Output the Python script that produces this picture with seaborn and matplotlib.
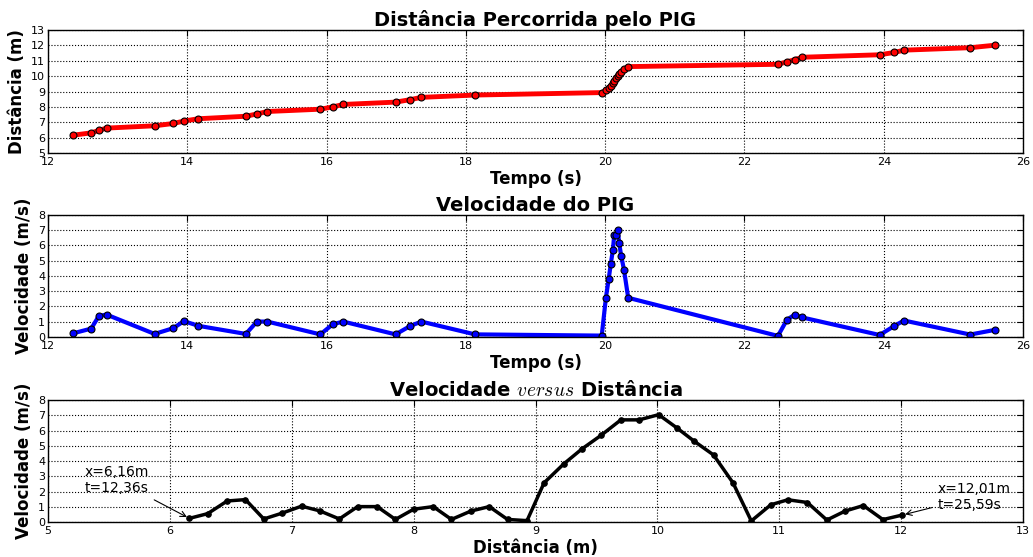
import matplotlib
matplotlib.use("Agg")
import matplotlib.pyplot as plt
import seaborn as sns

# tempo (s), distancia (m) e velocidade (m/s) de cada leitura
tempo = [12.36, 12.62, 12.73, 12.84, 13.53, 13.80, 13.95, 14.16, 14.84, 15.00,
         15.15, 15.91, 16.09, 16.24, 16.99, 17.20, 17.36, 18.13, 19.95, 20.01,
         20.05, 20.08, 20.11, 20.13, 20.16, 20.18, 20.20, 20.23, 20.27, 20.33,
         22.48, 22.61, 22.72, 22.83, 23.94, 24.15, 24.29, 25.24, 25.59]
distancia = [6.16, 6.31, 6.47, 6.62, 6.77, 6.92, 7.08, 7.23, 7.39, 7.54,
             7.70, 7.85, 8.00, 8.16, 8.31, 8.47, 8.62, 8.77, 8.93, 9.07,
             9.23, 9.38, 9.54, 9.70, 9.85, 10.01, 10.16, 10.30, 10.46, 10.62,
             10.77, 10.93, 11.07, 11.23, 11.39, 11.54, 11.69, 11.85, 12.01]
velocidade = [0.24, 0.55, 1.38, 1.47, 0.20, 0.58, 1.04, 0.73, 0.20, 1.01,
              1.01, 0.17, 0.84, 1.01, 0.17, 0.72, 1.01, 0.17, 0.09, 2.57,
              3.80, 4.79, 5.70, 6.70, 6.70, 7.04, 6.17, 5.31, 4.40, 2.57,
              0.07, 1.13, 1.46, 1.28, 0.13, 0.72, 1.08, 0.16, 0.46]

sns.set_style("white")
plt.rcParams.update({
    "font.family": ["DejaVu Sans"],
    "mathtext.fontset": "cm",
    "text.color": "black",
    "axes.labelcolor": "black",
    "xtick.color": "black",
    "ytick.color": "black",
    "xtick.direction": "in",
    "ytick.direction": "in",
    "xtick.top": True,
    "ytick.right": True,
    "xtick.labelsize": 8,
    "ytick.labelsize": 8,
    "xtick.major.size": 4,
    "ytick.major.size": 4,
    "xtick.major.pad": 3,
    "ytick.major.pad": 2,
    "axes.edgecolor": "black",
    "axes.linewidth": 1.0,
})

fig = plt.figure(figsize=(10.33, 5.57), dpi=100, facecolor="white")
ax1 = fig.add_axes([0.0465, 0.7253, 0.9439, 0.2208])
ax2 = fig.add_axes([0.0465, 0.3950, 0.9439, 0.2190])
ax3 = fig.add_axes([0.0465, 0.0628, 0.9439, 0.2190])

# Distancia x tempo
sns.lineplot(x=tempo, y=distancia, ax=ax1, color="red", lw=3.5, marker="o",
             markersize=5, markerfacecolor="red", markeredgecolor="black",
             markeredgewidth=0.8, sort=False, estimator=None)
ax1.set_xlim(12, 26)
ax1.set_ylim(5, 13)
ax1.set_xticks(range(12, 27, 2))
ax1.set_yticks(range(5, 14))
ax1.set_title("Distância Percorrida pelo PIG", fontsize=14, fontweight="bold", pad=3)
ax1.set_xlabel("Tempo (s)", fontsize=12, fontweight="bold", labelpad=2)
ax1.set_ylabel("Distância (m)", fontsize=12, fontweight="bold", labelpad=4)

# Velocidade x tempo
sns.lineplot(x=tempo, y=velocidade, ax=ax2, color="blue", lw=3, marker="o",
             markersize=5, markerfacecolor="blue", markeredgecolor="black",
             markeredgewidth=0.8, sort=False, estimator=None)
ax2.set_xlim(12, 26)
ax2.set_ylim(0, 8)
ax2.set_xticks(range(12, 27, 2))
ax2.set_yticks(range(0, 9))
ax2.set_title("Velocidade do PIG", fontsize=14, fontweight="bold", pad=3)
ax2.set_xlabel("Tempo (s)", fontsize=12, fontweight="bold", labelpad=2)
ax2.set_ylabel("Velocidade (m/s)", fontsize=12, fontweight="bold", labelpad=4)

# Velocidade x distancia
sns.lineplot(x=distancia, y=velocidade, ax=ax3, color="black", lw=2.5, marker="o",
             markersize=4, markerfacecolor="black", markeredgecolor="black",
             sort=False, estimator=None)
ax3.set_xlim(5, 13)
ax3.set_ylim(0, 8)
ax3.set_xticks(range(5, 14))
ax3.set_yticks(range(0, 9))
ax3.set_title(r"Velocidade $versus$ Distância", fontsize=14, fontweight="bold", pad=3)
ax3.set_xlabel("Distância (m)", fontsize=12, fontweight="bold", labelpad=2)
ax3.set_ylabel("Velocidade (m/s)", fontsize=12, fontweight="bold", labelpad=4)

ax3.annotate("x=6,16m\nt=12,36s", xy=(distancia[0], velocidade[0]), xytext=(5.3, 1.95),
             fontsize=10, arrowprops=dict(arrowstyle="->", color="black", lw=0.8))
ax3.annotate("x=12,01m\nt=25,59s", xy=(distancia[-1], velocidade[-1]), xytext=(12.3, 0.85),
             fontsize=10, arrowprops=dict(arrowstyle="->", color="black", lw=0.8))

for ax in (ax1, ax2, ax3):
    ax.grid(True, color="black", linestyle=":", linewidth=0.8)
    for s in ax.spines.values():
        s.set_visible(True)
        s.set_color("black")

fig.savefig("out.png", dpi=100, facecolor="white")
